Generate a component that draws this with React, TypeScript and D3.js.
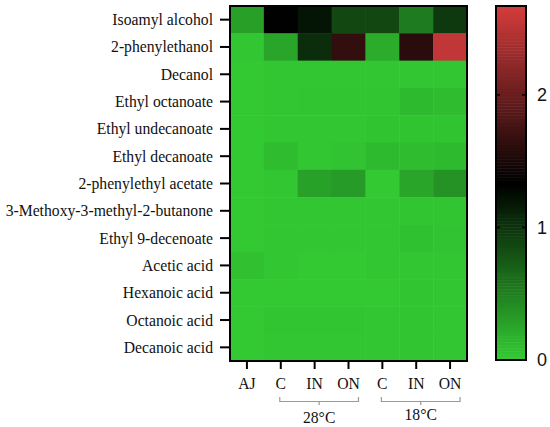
import * as d3 from "d3";

const compounds = [
  "Isoamyl alcohol",
  "2-phenylethanol",
  "Decanol",
  "Ethyl octanoate",
  "Ethyl undecanoate",
  "Ethyl decanoate",
  "2-phenylethyl acetate",
  "3-Methoxy-3-methyl-2-butanone",
  "Ethyl 9-decenoate",
  "Acetic acid",
  "Hexanoic acid",
  "Octanoic acid",
  "Decanoic acid",
];

const samples = ["AJ", "C", "IN", "ON", "C ", "IN ", "ON "];

// one row per compound, one value per sample
const values = [
  [0.29, 1.33, 1.2, 0.87, 0.87, 0.53, 0.97],
  [0.03, 0.25, 1.04, 1.65, 0.2, 1.6, 2.55],
  [0.02, 0.03, 0.03, 0.03, 0.03, 0.03, 0.03],
  [0.02, 0.03, 0.04, 0.04, 0.04, 0.12, 0.1],
  [0.02, 0.03, 0.03, 0.03, 0.05, 0.05, 0.05],
  [0.02, 0.1, 0.03, 0.06, 0.12, 0.1, 0.12],
  [0.02, 0.03, 0.28, 0.32, 0.02, 0.25, 0.38],
  [0.02, 0.03, 0.03, 0.03, 0.03, 0.04, 0.04],
  [0.02, 0.03, 0.03, 0.03, 0.03, 0.07, 0.06],
  [0.08, 0.03, 0.02, 0.02, 0.03, 0.03, 0.03],
  [0.02, 0.02, 0.02, 0.02, 0.02, 0.04, 0.03],
  [0.02, 0.04, 0.04, 0.04, 0.03, 0.04, 0.03],
  [0.02, 0.03, 0.03, 0.03, 0.03, 0.04, 0.03],
];

const groups = [
  { label: "28°C", from: "C", to: "ON", ty: 423 },
  { label: "18°C", from: "C ", to: "ON ", ty: 420 },
];

const legendTicks = [0, 1, 2];
const vmax = 2.67;
const serif = "'Liberation Serif', 'Times New Roman', serif";

export default function App() {
  const width = 550;
  const height = 427;
  const left = 230;
  const top = 6;
  const right = 467;
  const bottom = 361;

  const x = d3.scaleBand().domain(samples).range([left, right]);
  const y = d3.scaleBand().domain(compounds).range([top, bottom]);
  const color = d3
    .scaleLinear<string>()
    .domain([0, vmax / 2, vmax])
    .range(["#33cc33", "#000000", "#d43c3c"]);

  const cbX = 496;
  const cbW = 30;
  const cbY = d3.scaleLinear().domain([0, vmax]).range([360, 6]);
  const bands = d3.range(120).map((i) => (i * vmax) / 120);

  return (
    <svg
      width={width}
      height={height}
      style={{ position: "absolute", left: 0, top: 0, background: "#fff" }}
    >
      {values.map((row, i) =>
        row.map((v, j) => (
          <rect
            key={`${i}-${j}`}
            x={x(samples[j])}
            y={y(compounds[i])}
            width={x.bandwidth() + 0.5}
            height={y.bandwidth() + 0.5}
            fill={color(v)}
          />
        ))
      )}
      <rect
        x={left}
        y={top}
        width={right - left}
        height={bottom - top}
        fill="none"
        stroke="#000"
        strokeWidth={2}
      />
      {/* row axis */}
      {compounds.map((c) => {
        const cy = (y(c) ?? 0) + y.bandwidth() / 2;
        return (
          <g key={c}>
            <line x1={220} x2={left} y1={cy} y2={cy} stroke="#000" strokeWidth={2} />
            <text
              x={213}
              y={cy}
              dy="0.35em"
              textAnchor="end"
              fontFamily={serif}
              fontSize={15.7}
              fill="#111"
            >
              {c}
            </text>
          </g>
        );
      })}
      {/* column axis */}
      {samples.map((s) => {
        const cx = (x(s) ?? 0) + x.bandwidth() / 2;
        return (
          <g key={s}>
            <line x1={cx} x2={cx} y1={bottom} y2={369} stroke="#000" strokeWidth={2} />
            <text
              x={cx}
              y={389}
              textAnchor="middle"
              fontFamily={serif}
              fontSize={15.7}
              fill="#111"
            >
              {s.trim()}
            </text>
          </g>
        );
      })}
      {groups.map((g) => {
        const x0 = (x(g.from) ?? 0) + x.bandwidth() / 2 - 1;
        const x1 = (x(g.to) ?? 0) + x.bandwidth() / 2 + 10;
        const mid = (x0 + x1) / 2;
        return (
          <g key={g.label}>
            <path
              d={`M${x0},397 V401.5 H${x1} V397 M${mid},401.5 V405`}
              fill="none"
              stroke="#999"
              strokeWidth={1.2}
            />
            <text
              x={mid}
              y={g.ty}
              textAnchor="middle"
              fontFamily={serif}
              fontSize={15.7}
              fill="#111"
            >
              {g.label}
            </text>
          </g>
        );
      })}
      {/* colour bar */}
      {bands.map((b) => (
        <rect
          key={b}
          x={cbX}
          y={cbY(b + vmax / 120)}
          width={cbW}
          height={cbY(b) - cbY(b + vmax / 120) + 0.5}
          fill={color(b + vmax / 240)}
        />
      ))}
      <rect
        x={cbX}
        y={cbY(vmax)}
        width={cbW}
        height={cbY(0) - cbY(vmax)}
        fill="none"
        stroke="#000"
        strokeWidth={2}
      />
      {legendTicks.map((t) => (
        <g key={t}>
          {t > 0 && (
            <>
              <line x1={cbX} x2={cbX + 4} y1={cbY(t)} y2={cbY(t)} stroke="#000" strokeWidth={1.5} />
              <line x1={cbX + cbW - 4} x2={cbX + cbW} y1={cbY(t)} y2={cbY(t)} stroke="#000" strokeWidth={1.5} />
            </>
          )}
          <text
            x={537}
            y={cbY(t)}
            dy="0.36em"
            fontFamily="'Liberation Sans', Arial, sans-serif"
            fontSize={18}
            fill="#111"
          >
            {t}
          </text>
        </g>
      ))}
    </svg>
  );
}
